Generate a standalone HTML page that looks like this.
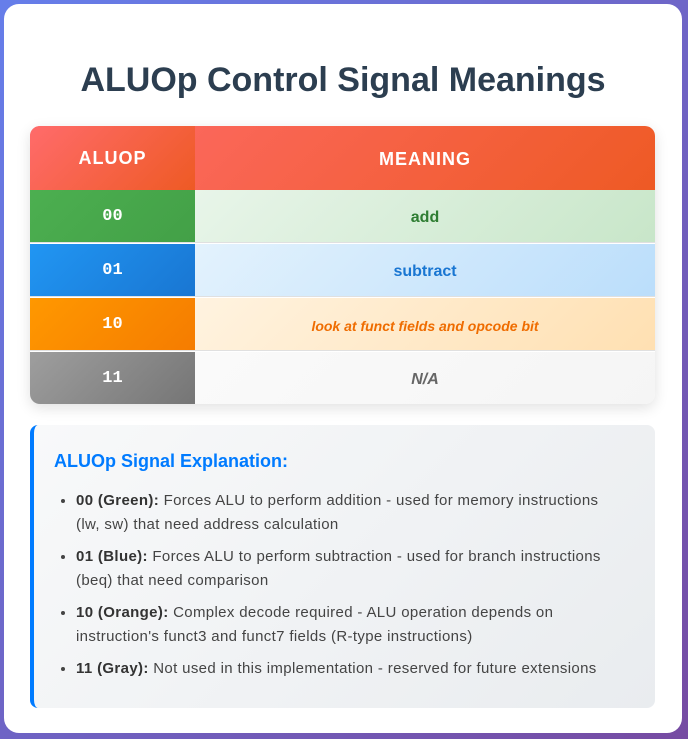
<!DOCTYPE html>
<html><head><meta charset="utf-8"><style>
*{box-sizing:border-box;margin:0;padding:0}
html,body{width:688px;height:739px;overflow:hidden}
body{background:linear-gradient(135deg,#667eea,#764ba2);font-family:"Liberation Sans",sans-serif;position:relative}
.card{position:absolute;left:4px;top:4px;width:678px;height:729px;background:#fff;border-radius:15px}
h1{position:absolute;left:0;width:100%;top:57px;text-align:center;font-size:34px;font-weight:bold;color:#2c3e50;letter-spacing:0px}
.tbl{position:absolute;left:26px;top:122px;width:625px;height:278px;border-radius:10px;overflow:hidden;box-shadow:0 4px 14px rgba(0,0,0,0.12)}
.row{position:absolute;left:0;width:625px;display:flex}
.c1{width:165px;display:flex;align-items:center;justify-content:center;color:#fff;font-weight:bold;font-size:17px;font-family:"Liberation Mono",monospace}
.c2{flex:1;display:flex;align-items:center;justify-content:center;font-size:16px;font-weight:bold;padding-top:3px}
.hdr .c1,.hdr .c2{font-family:"Liberation Sans",sans-serif;font-size:18px;letter-spacing:1px;color:#fff}
.expl{position:absolute;left:26px;top:421px;width:625px;height:283px;border-radius:8px;border-left:4px solid #007bff;background:linear-gradient(135deg,#f8f9fa,#e9ecef)}
.expl h3{position:absolute;left:20px;top:26px;font-size:18px;color:#007bff;font-weight:bold}
.expl ul{position:absolute;left:42px;top:64px;font-size:15px;letter-spacing:0.35px;color:#444;line-height:24px;list-style:disc}
.expl li{margin-bottom:8px;white-space:nowrap}
.expl b{color:#333}
</style></head><body>
<div class="card">
<h1>ALUOp Control Signal Meanings</h1>
<div class="tbl">
<div class="row hdr" style="top:0;height:64px;background:linear-gradient(135deg,#ff6b6b,#ee5a24)">
<div class="c1" style="background:linear-gradient(135deg,#ff6b6b,#ee5a24)">ALUOP</div>
<div class="c2">MEANING</div></div>
<div class="row" style="top:64px;height:53px;border-bottom:1px solid #e0e0e0">
<div class="c1" style="background:linear-gradient(135deg,#4caf50,#43a047)">00</div>
<div class="c2" style="background:linear-gradient(135deg,#e8f5e9,#c8e6c9);color:#2e7d32">add</div></div>
<div class="row" style="top:118px;height:53px;border-bottom:1px solid #e0e0e0">
<div class="c1" style="background:linear-gradient(135deg,#2196f3,#1976d2)">01</div>
<div class="c2" style="background:linear-gradient(135deg,#e3f2fd,#bbdefb);color:#1976d2">subtract</div></div>
<div class="row" style="top:172px;height:53px;border-bottom:1px solid #e0e0e0">
<div class="c1" style="background:linear-gradient(135deg,#ff9800,#f57c00)">10</div>
<div class="c2" style="background:linear-gradient(135deg,#fff3e0,#ffe0b2);color:#ef6c00;font-style:italic;font-size:14px">look at funct fields and opcode bit</div></div>
<div class="row" style="top:226px;height:53px">
<div class="c1" style="background:linear-gradient(135deg,#9e9e9e,#757575)">11</div>
<div class="c2" style="background:linear-gradient(135deg,#fafafa,#f5f5f5);color:#666;font-style:italic">N/A</div></div>
</div>
<div class="expl">
<h3>ALUOp Signal Explanation:</h3>
<ul>
<li><b>00 (Green):</b> Forces ALU to perform addition - used for memory instructions<br>(lw, sw) that need address calculation</li>
<li><b>01 (Blue):</b> Forces ALU to perform subtraction - used for branch instructions<br>(beq) that need comparison</li>
<li><b>10 (Orange):</b> Complex decode required - ALU operation depends on<br>instruction's funct3 and funct7 fields (R-type instructions)</li>
<li><b>11 (Gray):</b> Not used in this implementation - reserved for future extensions</li>
</ul></div>
</div>
</body></html>
